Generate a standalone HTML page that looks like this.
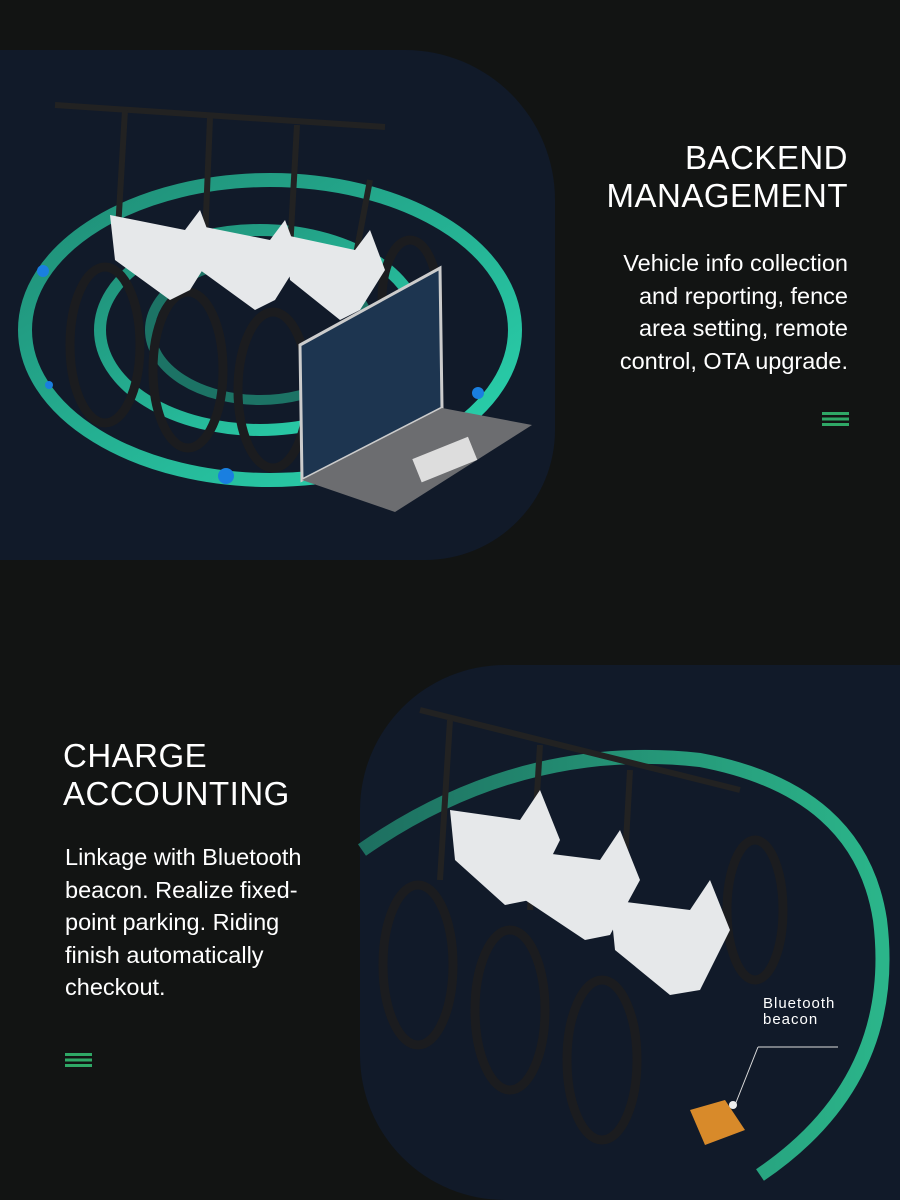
<!DOCTYPE html>
<html><head><meta charset="utf-8"><style>
body{margin:0;width:900px;height:1200px;background:#121413;overflow:hidden;font-family:"Liberation Sans",sans-serif;position:relative}
.t{position:absolute;color:#fff}
.h{font-size:33px;line-height:38px;letter-spacing:0.5px}
.p{font-size:23.5px;line-height:32.5px}
.m{position:absolute;width:27px;height:14px;background:linear-gradient(#2fa866 0 3px,transparent 3px 5.5px,#2fa866 5.5px 8.5px,transparent 8.5px 11px,#2fa866 11px 14px)}
</style></head><body>
<svg width="900" height="1200" style="position:absolute;left:0;top:0">
<defs>
<linearGradient id="g1" x1="0" y1="0" x2="1" y2="1"><stop offset="0" stop-color="#1f8a74"/><stop offset="1" stop-color="#2ad6b0"/></linearGradient>
<linearGradient id="g2" x1="0" y1="0" x2="1" y2="0"><stop offset="0" stop-color="#1d6f60"/><stop offset="1" stop-color="#2bb58a"/></linearGradient>
</defs>
<path d="M0 50 H405 A150 150 0 0 1 555 200 V430 A130 130 0 0 1 425 560 H0 Z" fill="#111a29"/>
<ellipse cx="270" cy="330" rx="245" ry="150" fill="none" stroke="url(#g1)" stroke-width="14"/>
<ellipse cx="260" cy="330" rx="160" ry="100" fill="none" stroke="url(#g1)" stroke-width="12"/>
<ellipse cx="260" cy="330" rx="110" ry="70" fill="none" stroke="#1f8a74" stroke-width="10" opacity="0.8"/>
<circle cx="43" cy="271" r="6" fill="#1a7fe0"/><circle cx="49" cy="385" r="4" fill="#1a7fe0"/><circle cx="226" cy="476" r="8" fill="#1a7fe0"/><circle cx="478" cy="393" r="6" fill="#1a7fe0"/>
<g fill="none" stroke="#1b1c1f" stroke-width="9">
<ellipse cx="105" cy="345" rx="35" ry="78"/><ellipse cx="188" cy="370" rx="35" ry="78"/><ellipse cx="273" cy="390" rx="35" ry="78"/>
<ellipse cx="410" cy="300" rx="28" ry="60"/>
</g>
<g stroke="#222" stroke-width="6">
<line x1="55" y1="105" x2="385" y2="127"/><line x1="125" y1="110" x2="118" y2="230"/><line x1="210" y1="118" x2="205" y2="240"/><line x1="297" y1="125" x2="290" y2="250"/>
<line x1="370" y1="180" x2="355" y2="260"/>
</g>
<g fill="#e6e8ea">
<path d="M110 215 L185 230 L200 210 L215 250 L190 290 L170 300 L115 260 Z"/>
<path d="M195 225 L270 240 L285 220 L300 260 L275 300 L255 310 L200 270 Z"/>
<path d="M285 235 L355 250 L370 230 L385 270 L360 310 L340 320 L290 280 Z"/>
</g>
<path d="M300 345 L440 268 L442 408 L302 480 Z" fill="#1d3550" stroke="#ccc" stroke-width="3"/>
<path d="M302 480 L442 408 L532 425 L395 512 Z" fill="#6c6d70"/>
<rect x="415" y="447" width="60" height="25" fill="#ddd" transform="rotate(-22 445 460)"/>
<path d="M900 665 H505 A145 145 0 0 0 360 810 V1055 A145 145 0 0 0 505 1200 H900 Z" fill="#111a29"/>
<path d="M362 850 Q520 740 700 760 Q860 790 880 920 Q900 1080 760 1175" fill="none" stroke="url(#g2)" stroke-width="14"/>
<g fill="none" stroke="#1b1c1f" stroke-width="9">
<ellipse cx="418" cy="965" rx="35" ry="80"/><ellipse cx="510" cy="1010" rx="35" ry="80"/><ellipse cx="602" cy="1060" rx="35" ry="80"/><ellipse cx="755" cy="910" rx="28" ry="70"/>
</g>
<g stroke="#222" stroke-width="6"><line x1="420" y1="710" x2="740" y2="790"/><line x1="450" y1="720" x2="440" y2="880"/><line x1="540" y1="745" x2="530" y2="910"/><line x1="630" y1="770" x2="620" y2="950"/></g>
<g fill="#e6e8ea">
<path d="M450 810 L520 820 L540 790 L560 840 L530 900 L505 905 L455 860 Z"/>
<path d="M520 850 L600 860 L620 830 L640 880 L610 935 L585 940 L525 900 Z"/>
<path d="M610 900 L690 910 L710 880 L730 930 L700 990 L670 995 L615 950 Z"/>
</g>
<path d="M758 1047 H838 M758 1047 L735 1105" stroke="#ddd" stroke-width="1" fill="none"/>
<path d="M690 1110 L725 1100 L745 1130 L705 1145 Z" fill="#d88a2a"/>
<circle cx="733" cy="1105" r="4" fill="#eee"/>
</svg>
<div class="t h" style="right:52px;top:139px;text-align:right">BACKEND<br>MANAGEMENT</div>
<div class="t p" style="right:52px;top:247px;text-align:right">Vehicle info collection<br>and reporting, fence<br>area setting, remote<br>control, OTA upgrade.</div>
<div class="m" style="left:822px;top:412px"></div>
<div class="t h" style="left:63px;top:737px">CHARGE<br>ACCOUNTING</div>
<div class="t p" style="left:65px;top:841px">Linkage with Bluetooth<br>beacon. Realize fixed-<br>point parking. Riding<br>finish automatically<br>checkout.</div>
<div class="m" style="left:65px;top:1053px"></div>
<div class="t" style="left:763px;top:996px;font-size:15px;line-height:16px;letter-spacing:1px">Bluetooth<br>beacon</div>
</body></html>
